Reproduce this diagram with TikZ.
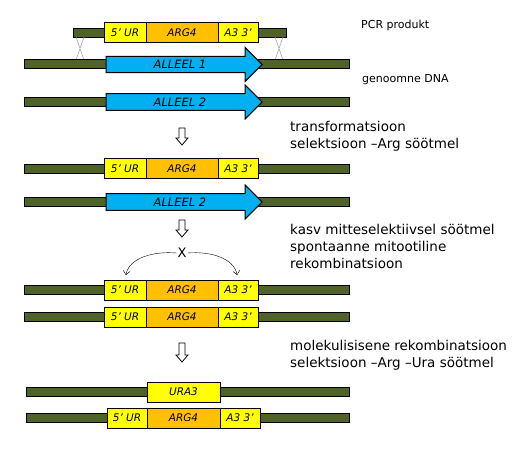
\documentclass[tikz,border=0pt]{standalone}
\usepackage{fontspec}
\setmainfont{DejaVu Sans}
\usetikzlibrary{arrows.meta,positioning,shapes.arrows}

\definecolor{dnagreen}{RGB}{79,98,40}
\definecolor{geneyellow}{RGB}{255,255,0}
\definecolor{geneorange}{RGB}{255,192,0}
\definecolor{alleleblue}{RGB}{0,176,240}

\begin{document}
\begin{tikzpicture}[
  x=1pt, y=-1pt,
  >={Straight Barb[length=4pt,width=7pt]},
  node distance=0pt,
  dna/.style={rectangle, draw=black, fill=dnagreen, line width=1pt, minimum height=9pt, inner sep=0pt},
  part/.style={rectangle, draw=black, line width=1pt, outer sep=0pt, minimum height=20pt, inner sep=0pt, font=\itshape\fontsize{10.5}{12}\selectfont},
  flank/.style={part, fill=geneyellow},
  marker/.style={part, fill=geneorange},
  allele/.style={single arrow, draw=black, fill=alleleblue, line width=1pt, inner sep=0pt, minimum width=34pt, minimum height=156pt, single arrow head extend=5pt, font=\itshape\fontsize{11.5}{12}\selectfont},
  hollow/.style={draw=black, fill=white, line width=0.8pt},
  cross/.style={draw=gray!70, line width=0.6pt},
  note/.style={anchor=west, align=left, font=\fontsize{13.5}{17}\selectfont, inner sep=0pt},
  label/.style={anchor=west, font=\fontsize{11}{12}\selectfont, inner sep=0pt}
]
\useasboundingbox (0,0) rectangle (521,454);

% PCR produkt
\node[dna, minimum width=213pt] (pcrbar) at (179.5,33) {};
\node[flank, minimum width=42pt] (pcrur) at (125,33) {5' UR};
\node[marker, minimum width=72pt, right=of pcrur] (pcrarg) {ARG4};
\node[flank, minimum width=40pt, right=of pcrarg] (pcra3) {A3 3'};
\draw[cross] (76,37) -- (84,60) (84,37) -- (76,60);
\draw[cross] (275,37) -- (283,60) (283,37) -- (275,60);
\node[label] (pcrtext) at (361,25) {PCR produkt};

% genoomne DNA
\node[dna, minimum width=325pt] (gbar1) at (186.5,64.5) {};
\node[allele] (al1) at (180,64.5) {ALLEEL 1};
\node[dna, minimum width=325pt] (gbar2) at (186.5,102) {};
\node[allele] (al2) at (180,102) {ALLEEL 2};
\node[label] (dnatext) at (362,80) {genoomne DNA};

\draw[hollow] (179,128) -- ++(6,0) -- ++(0,10) -- ++(3,0) -- ++(-6,7) -- ++(-6,-7) -- ++(3,0) -- cycle;
\node[note] (step1) at (290,136.5) {transformatsioon\\selektsioon --Arg söötmel};

% after transformation
\node[dna, minimum width=325pt] (gbar3) at (186.5,169) {};
\node[flank, minimum width=42pt] (ur3) at (125,169) {5' UR};
\node[marker, minimum width=72pt, right=of ur3] (arg3) {ARG4};
\node[flank, minimum width=40pt, right=of arg3] (a33) {A3 3'};
\node[dna, minimum width=325pt] (gbar4) at (186.5,202) {};
\node[allele] (al4) at (180,202) {ALLEEL 2};

\draw[hollow] (179,220) -- ++(6,0) -- ++(0,10) -- ++(3,0) -- ++(-6,7) -- ++(-6,-7) -- ++(3,0) -- cycle;
\node[note] (step2) at (290,246) {kasv mitteselektiivsel söötmel\\spontaanne mitootiline\\rekombinatsioon};

% mitotic recombination
\node[font=\fontsize{13}{14}\selectfont, inner sep=1pt] (xmark) at (182,253) {X};
\node[dna, minimum width=325pt] (gbar5) at (186.5,290) {};
\node[flank, minimum width=42pt] (ur5) at (125,290) {5' UR};
\node[marker, minimum width=72pt, right=of ur5] (arg5) {ARG4};
\node[flank, minimum width=40pt, right=of arg5] (a35) {A3 3'};
\node[dna, minimum width=325pt] (gbar6) at (186.5,317) {};
\node[flank, minimum width=42pt] (ur6) at (125,317) {5' UR};
\node[marker, minimum width=72pt, right=of ur6] (arg6) {ARG4};
\node[flank, minimum width=40pt, right=of arg6] (a36) {A3 3'};
\draw[->, shorten >=5pt] (xmark.west) to[out=175, in=80] (ur5.north);
\draw[->, shorten >=5pt] (xmark.east) to[out=5, in=100] (a35.north);

\draw[hollow] (179,343) -- ++(6,0) -- ++(0,12) -- ++(3,0) -- ++(-6,7) -- ++(-6,-7) -- ++(3,0) -- cycle;
\node[note] (step3) at (290,355) {molekulisisene rekombinatsioon\\selektsioon --Arg --Ura söötmel};

% URA3 insertion
\node[dna, minimum width=323pt] (gbar7) at (187.5,392) {};
\node[flank, minimum width=73pt] (ura) at (183.5,392) {URA3};
\node[dna, minimum width=323pt] (gbar8) at (187.5,418) {};
\node[flank, minimum width=40pt] (ur8) at (127,418) {5' UR};
\node[marker, minimum width=73pt, right=of ur8] (arg8) {ARG4};
\node[flank, minimum width=40pt, right=of arg8] (a38) {A3 3'};
\end{tikzpicture}
\end{document}
